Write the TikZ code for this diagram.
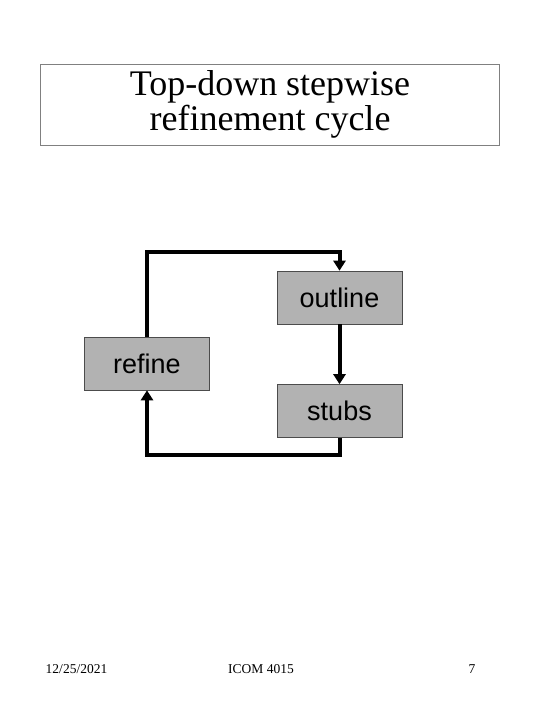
\documentclass[tikz,border=0pt]{standalone}
\usepackage{fontspec}
\setmainfont{Liberation Serif}
\newfontfamily\boxfont{Liberation Sans}
\usepackage{tikz}
\usetikzlibrary{positioning}
\usetikzlibrary{arrows.meta}

\tikzset{
  stagebox/.style={draw=black!70, fill=black!30, line width=0.6pt,
    minimum width=125pt, minimum height=53pt, inner sep=0pt,
    font=\boxfont\fontsize{27}{32}\selectfont},
  flow/.style={line width=4pt, -{Triangle[length=10pt,width=12pt]}},
  footer/.style={font=\fontsize{13.5}{16}\selectfont, anchor=base}
}

\begin{document}
\begin{tikzpicture}[x=1pt,y=-1pt]
\useasboundingbox (0,0) rectangle (540,720);
\fill[white] (0,0) rectangle (540,720);
% title
\draw[black!50, line width=0.6pt] (40,64) rectangle (499,145);
\node[align=center, font=\fontsize{36}{35}\selectfont] (title) at (270,104.5) {Top-down stepwise\\refinement cycle};
% stages
\node[stagebox] (outline) at (339.5,297.5) {outline};
\node[stagebox] (refine) at (147,363.5) {refine};
\node[stagebox] (stubs) at (339.5,411) {stubs};
\coordinate (topleft) at (147,252);
\coordinate (botleft) at (147,455);
% cycle
\draw[flow] (refine.north) -- (topleft) -| (outline.north);
\draw[flow] (outline.south) -- (stubs.north);
\draw[flow] (stubs.south) |- (botleft) -- (refine.south);
% footer
\node[footer] (date) at (76.5,673) {12/25/2021};
\node[footer] (course) at (261,673) {ICOM 4015};
\node[footer] (page) at (472,673) {7};
\end{tikzpicture}
\end{document}
